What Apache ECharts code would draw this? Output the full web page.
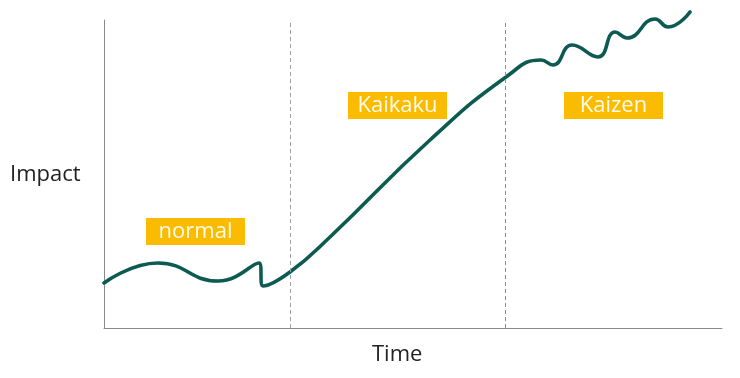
<!DOCTYPE html>
<html>
<head>
<meta charset="utf-8">
<script src="https://cdn.jsdelivr.net/npm/echarts@6/dist/echarts.min.js"></script>
<style>
  html, body { margin: 0; padding: 0; background: #fff; }
  #chart { width: 740px; height: 378px; }
</style>
</head>
<body>
<div id="chart"></div>
<script>
// curve (x: time 0..100, y: impact 0..100)
const timeX = [0, 8.74, 18.45, 25.08, 25.73, 30.1, 36.57, 52.75, 65.05, 70.71,
    72.65, 75.73, 79.94, 82.69, 84.63, 89.16, 91.26, 94.82];
const impactY = [14.61, 21.1, 15.26, 21.1, 13.64, 18.18, 29.55, 61.04, 81.49, 87.01,
    85.39, 91.88, 87.99, 96.1, 94.16, 100.32, 97.73, 102.6];
const phaseBorders = [30.1, 65.0];
const phaseLabels = ["normal", "Kaikaku", "Kaizen"];
const axisTitles = ["Impact", "Time"];

const chart = echarts.init(document.getElementById("chart"));

const labelBox = (text, left, top) => ({
    type: "group",
    left: left,
    top: top,
    children: [
        { type: "rect", shape: { x: 0, y: 0, width: 99, height: 27 }, style: { fill: "#fbbb00" } },
        {
            type: "text",
            x: 49.5, y: 14,
            style: {
                text: text, fill: "#fffbea", font: "22px 'Open Sans'",
                align: "center", verticalAlign: "middle"
            }
        }
    ]
});

chart.setOption({
    backgroundColor: "#fff",
    animation: false,
    grid: { left: 104, right: 18, top: 20, bottom: 50 },
    xAxis: {
        type: "value",
        min: 0, max: 100,
        axisLine: { show: true, lineStyle: { color: "#8a8a8a", width: 1 } },
        axisTick: { show: false },
        axisLabel: { show: false },
        splitLine: { show: false }
    },
    yAxis: {
        type: "value",
        min: 0, max: 100,
        axisLine: { show: true, lineStyle: { color: "#8a8a8a", width: 1 } },
        axisTick: { show: false },
        axisLabel: { show: false },
        splitLine: { show: false }
    },
    series: [
        {
            type: "line",
            data: timeX.map((x, i) => [x, impactY[i]]),
            smooth: 0.5,
            clip: false,
            symbol: "none",
            lineStyle: { color: "#0d5a52", width: 3.6, cap: "round", join: "round" },
            markLine: {
                silent: true,
                symbol: "none",
                label: { show: false },
                data: [
                    { xAxis: phaseBorders[0], lineStyle: { color: "#9aa3a3", type: [4, 3], width: 1 } },
                    { xAxis: phaseBorders[1], lineStyle: { color: "#6f9c9a", type: [4, 3], width: 1 } }
                ]
            }
        }
    ],
    graphic: [
        labelBox(phaseLabels[0], 146, 218),
        labelBox(phaseLabels[1], 348, 92),
        labelBox(phaseLabels[2], 564, 92),
        {
            type: "text", left: 10, top: 164,
            style: { text: axisTitles[0], fill: "#222", font: "22px 'Open Sans'" }
        },
        {
            type: "text", left: 372, top: 344,
            style: { text: axisTitles[1], fill: "#222", font: "22px 'Open Sans'" }
        }
    ]
});
</script>
</body>
</html>
